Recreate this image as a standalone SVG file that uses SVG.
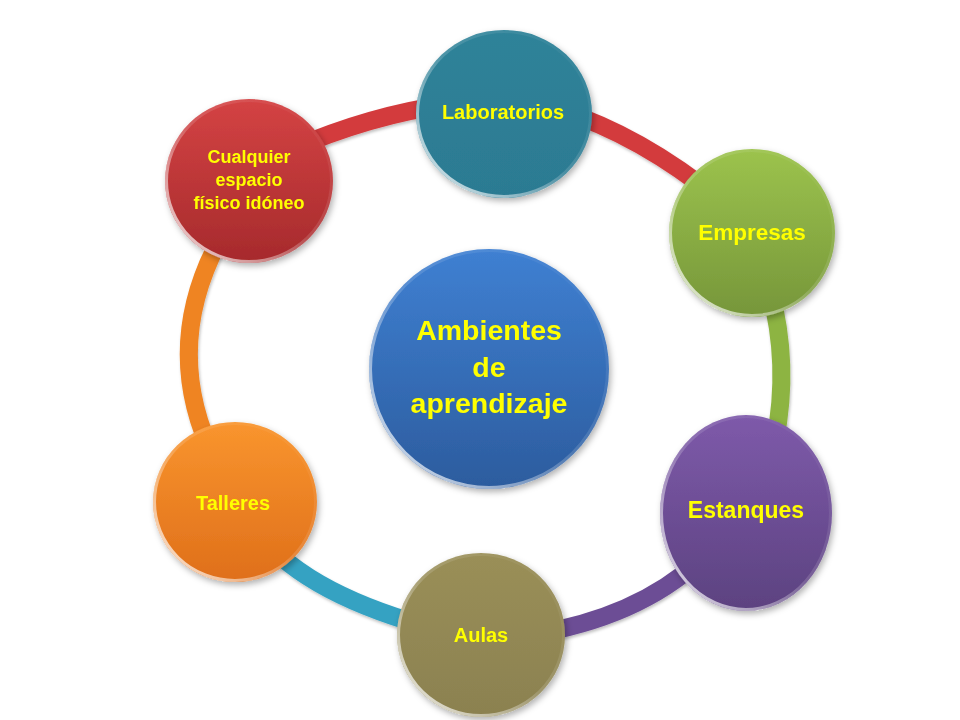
<svg xmlns="http://www.w3.org/2000/svg" width="960" height="720" viewBox="0 0 960 720">
  <defs>
    <style>
      .lbl { font-family: "Liberation Sans", Arial, sans-serif; font-weight: bold; fill: #FFFF00; text-anchor: middle; }
      .band { fill: none; stroke-width: 18; stroke-linecap: butt; }
      .rim { fill: none; stroke: url(#rim); stroke-width: 3; }
    </style>
    <filter id="sh" x="-20%" y="-20%" width="140%" height="140%">
      <feDropShadow dx="2" dy="3" stdDeviation="3" flood-color="#000" flood-opacity="0.3"/>
    </filter>
    <filter id="bsh" x="-20%" y="-20%" width="140%" height="140%">
      <feDropShadow dx="1" dy="2" stdDeviation="1.5" flood-color="#000" flood-opacity="0.25"/>
    </filter>
    <linearGradient id="rim" x1="1" y1="0" x2="0" y2="1">
      <stop offset="0" stop-color="#fff" stop-opacity="0"/>
      <stop offset="0.5" stop-color="#fff" stop-opacity="0.15"/>
      <stop offset="1" stop-color="#fff" stop-opacity="0.9"/>
    </linearGradient>
    <linearGradient id="gRed" x1="0" y1="0" x2="0" y2="1">
      <stop offset="0" stop-color="#D44344"/><stop offset="1" stop-color="#A62A2C"/>
    </linearGradient>
    <linearGradient id="gTeal" x1="0" y1="0" x2="0" y2="1">
      <stop offset="0" stop-color="#2F8399"/><stop offset="1" stop-color="#2C7A92"/>
    </linearGradient>
    <linearGradient id="gGreen" x1="0" y1="0" x2="0" y2="1">
      <stop offset="0" stop-color="#9CC34D"/><stop offset="1" stop-color="#76963A"/>
    </linearGradient>
    <linearGradient id="gPurple" x1="0" y1="0" x2="0" y2="1">
      <stop offset="0" stop-color="#7E5AAA"/><stop offset="1" stop-color="#5C4280"/>
    </linearGradient>
    <linearGradient id="gOlive" x1="0" y1="0" x2="0" y2="1">
      <stop offset="0" stop-color="#9A8F58"/><stop offset="1" stop-color="#8B8150"/>
    </linearGradient>
    <linearGradient id="gOrange" x1="0" y1="0" x2="0" y2="1">
      <stop offset="0" stop-color="#F9952E"/><stop offset="1" stop-color="#DF6F1A"/>
    </linearGradient>
    <linearGradient id="gBlue" x1="0" y1="0" x2="0" y2="1">
      <stop offset="0" stop-color="#3F80D2"/><stop offset="1" stop-color="#2C5C9E"/>
    </linearGradient>
  </defs>

  <rect width="960" height="720" fill="#ffffff"/>

  <g id="connectors" filter="url(#bsh)">
    <path class="band" stroke="#D33B3D" d="M 290 150 Q 370 115 450 104"/>
    <path class="band" stroke="#D33B3D" d="M 560 110 Q 640 135 720 200"/>
    <path class="band" stroke="#8DB443" d="M 770 290 Q 790 365 775 440"/>
    <path class="band" stroke="#6C4D95" d="M 700 560 Q 637 618 530 635"/>
    <path class="band" stroke="#34A2C2" d="M 440 630 Q 309 596 260 535"/>
    <path class="band" stroke="#EF8424" d="M 215 460 Q 158 345 225 230"/>
  </g>

  <g id="node-cualquier" filter="url(#sh)">
    <ellipse cx="249" cy="181" rx="84" ry="82" fill="url(#gRed)"/>
    <ellipse class="rim" cx="249" cy="181" rx="82.5" ry="80.5"/>
    <text class="lbl" font-size="18" x="249" y="163">Cualquier</text>
    <text class="lbl" font-size="18" x="249" y="186">espacio</text>
    <text class="lbl" font-size="18" x="249" y="209">físico idóneo</text>
  </g>

  <g id="node-laboratorios" filter="url(#sh)">
    <ellipse cx="504" cy="114" rx="88" ry="84" fill="url(#gTeal)"/>
    <ellipse class="rim" cx="504" cy="114" rx="86.5" ry="82.5"/>
    <text class="lbl" font-size="20" x="503" y="119">Laboratorios</text>
  </g>

  <g id="node-empresas" filter="url(#sh)">
    <ellipse cx="752" cy="233" rx="83" ry="84" fill="url(#gGreen)"/>
    <ellipse class="rim" cx="752" cy="233" rx="81.5" ry="82.5"/>
    <text class="lbl" font-size="22.5" x="752" y="240">Empresas</text>
  </g>

  <g id="node-estanques" filter="url(#sh)">
    <ellipse cx="746" cy="513" rx="86" ry="98" fill="url(#gPurple)"/>
    <ellipse class="rim" cx="746" cy="513" rx="84.5" ry="96.5"/>
    <text class="lbl" font-size="23" x="746" y="518">Estanques</text>
  </g>

  <g id="node-aulas" filter="url(#sh)">
    <ellipse cx="481" cy="635" rx="84" ry="82" fill="url(#gOlive)"/>
    <ellipse class="rim" cx="481" cy="635" rx="82.5" ry="80.5"/>
    <text class="lbl" font-size="20" x="481" y="642">Aulas</text>
  </g>

  <g id="node-talleres" filter="url(#sh)">
    <ellipse cx="235" cy="502" rx="82" ry="80" fill="url(#gOrange)"/>
    <ellipse class="rim" cx="235" cy="502" rx="80.5" ry="78.5"/>
    <text class="lbl" font-size="20" x="233" y="510">Talleres</text>
  </g>

  <g id="node-center" filter="url(#sh)">
    <ellipse cx="489" cy="369" rx="120" ry="120" fill="url(#gBlue)"/>
    <ellipse class="rim" cx="489" cy="369" rx="118.5" ry="118.5"/>
    <text class="lbl" font-size="28.5" x="489" y="340">Ambientes</text>
    <text class="lbl" font-size="28.5" x="489" y="377">de</text>
    <text class="lbl" font-size="28.5" x="489" y="413">aprendizaje</text>
  </g>
</svg>
